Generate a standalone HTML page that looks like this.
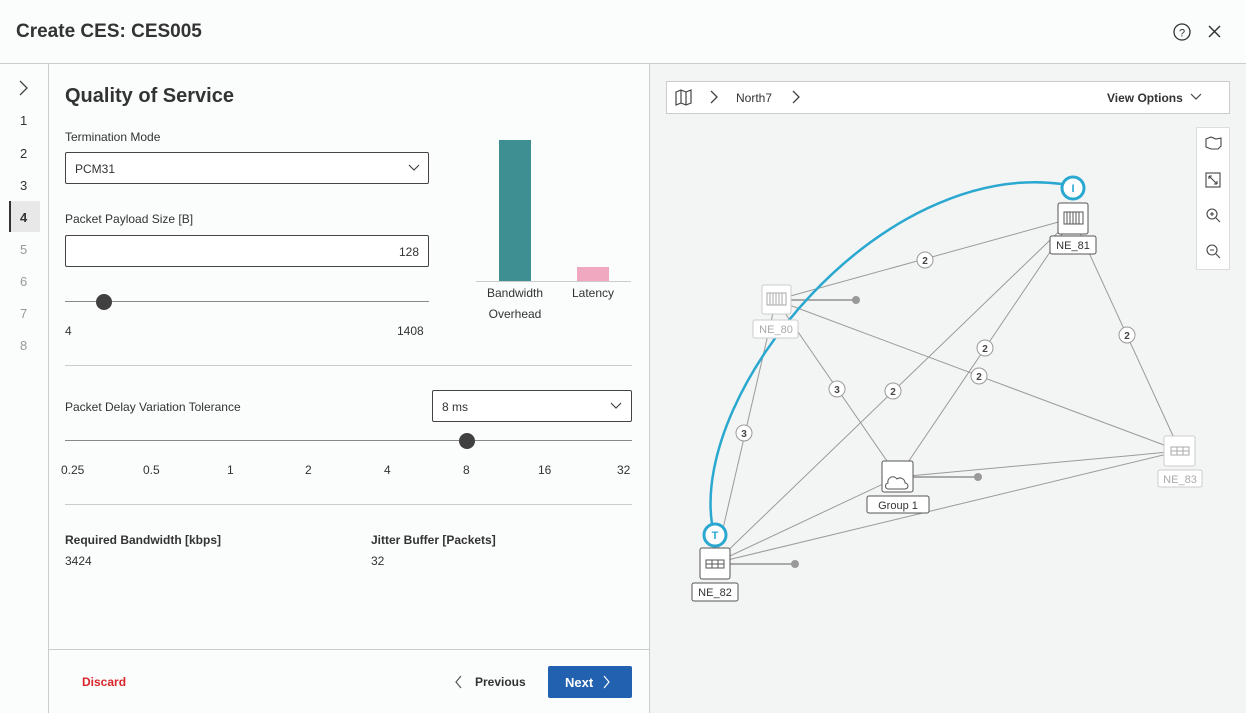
<!DOCTYPE html>
<html><head><meta charset="utf-8"><style>
*{box-sizing:border-box;margin:0;padding:0}
body{width:1246px;height:713px;overflow:hidden;background:#fbfcfc;font-family:"Liberation Sans",sans-serif;color:#333;position:relative}
.a{position:absolute}
.t12{font-size:12px}
.box{position:absolute;border:1px solid #444;border-radius:2px;background:#fff}
</style></head><body>
<div class="a" style="left:0;top:0;width:1246px;height:64px;border-bottom:1px solid #ccc;background:#fbfcfc"></div>
<div class="a" style="left:16px;top:21px;font-size:19px;font-weight:bold;color:#333">Create CES: CES005</div>
<svg class="a" style="left:1172px;top:22px" width="56" height="20"><circle cx="10" cy="10" r="8" fill="none" stroke="#333" stroke-width="1.3"/><text x="10" y="14.5" font-size="11" text-anchor="middle" fill="#333" font-family="Liberation Sans">?</text><path d="M37 4l11 11M48 4l-11 11" stroke="#333" stroke-width="1.5"/></svg>
<div class="a" style="left:48px;top:64px;width:1px;height:649px;background:#ccc"></div>
<svg class="a" style="left:16px;top:80px" width="16" height="16"><path d="M4 1l7 7-7 7" fill="none" stroke="#444" stroke-width="1.3"/></svg>
<div class="a" style="left:9px;top:201px;width:31px;height:31px;background:#e8e8e8;border-left:2px solid #333"></div>
<div class="a t12" style="left:20px;top:114px;line-height:1;font-size:13px">1</div>
<div class="a t12" style="left:20px;top:146px;font-size:13px">2</div>
<div class="a t12" style="left:20px;top:178px;font-size:13px">3</div>
<div class="a t12" style="left:20px;top:210px;font-size:13px;font-weight:bold">4</div>
<div class="a t12" style="left:20px;top:242px;font-size:13px;color:#999">5</div>
<div class="a t12" style="left:20px;top:274px;font-size:13px;color:#999">6</div>
<div class="a t12" style="left:20px;top:306px;font-size:13px;color:#999">7</div>
<div class="a t12" style="left:20px;top:338px;font-size:13px;color:#999">8</div>
<div class="a" style="left:65px;top:85px;font-size:20px;font-weight:bold;color:#333">Quality of Service</div>
<div class="a t12" style="left:65px;top:130px">Termination Mode</div>
<div class="box" style="left:65px;top:152px;width:364px;height:32px"><span class="a t12" style="left:9px;top:9px">PCM31</span><svg class="a" style="left:342px;top:11px" width="12" height="8"><path d="M1 1l5 5 5-5" fill="none" stroke="#444" stroke-width="1.2"/></svg></div>
<div class="a t12" style="left:65px;top:212px">Packet Payload Size [B]</div>
<div class="box" style="left:65px;top:235px;width:364px;height:32px"><span class="a t12" style="right:9px;top:9px">128</span></div>
<div class="a" style="left:65px;top:301px;width:364px;height:1px;background:#888"></div>
<div class="a" style="left:96px;top:294px;width:16px;height:16px;border-radius:50%;background:#404040"></div>
<div class="a t12" style="left:65px;top:324px">4</div>
<div class="a t12" style="left:397px;top:324px">1408</div>
<div class="a" style="left:476px;top:281px;width:155px;height:1px;background:#ccc"></div>
<div class="a" style="left:499px;top:140px;width:32px;height:141px;background:#3e8f91"></div>
<div class="a" style="left:577px;top:267px;width:32px;height:14px;background:#f0a7c0"></div>
<div class="a t12" style="left:480px;top:283px;width:70px;text-align:center;line-height:21px">Bandwidth<br>Overhead</div>
<div class="a t12" style="left:558px;top:283px;width:70px;text-align:center;line-height:21px">Latency</div>
<div class="a" style="left:65px;top:365px;width:567px;height:1px;background:#ccc"></div>
<div class="a t12" style="left:65px;top:400px">Packet Delay Variation Tolerance</div>
<div class="box" style="left:432px;top:390px;width:200px;height:32px"><span class="a t12" style="left:9px;top:9px">8 ms</span><svg class="a" style="left:177px;top:11px" width="12" height="8"><path d="M1 1l5 5 5-5" fill="none" stroke="#444" stroke-width="1.2"/></svg></div>
<div class="a" style="left:65px;top:440px;width:567px;height:1px;background:#888"></div>
<div class="a" style="left:459px;top:433px;width:16px;height:16px;border-radius:50%;background:#404040"></div>
<div class="a t12" style="left:61px;top:463px">0.25</div>
<div class="a t12" style="left:143px;top:463px">0.5</div>
<div class="a t12" style="left:227px;top:463px">1</div>
<div class="a t12" style="left:305px;top:463px">2</div>
<div class="a t12" style="left:384px;top:463px">4</div>
<div class="a t12" style="left:463px;top:463px">8</div>
<div class="a t12" style="left:538px;top:463px">16</div>
<div class="a t12" style="left:617px;top:463px">32</div>
<div class="a" style="left:65px;top:504px;width:567px;height:1px;background:#ccc"></div>
<div class="a t12" style="left:65px;top:533px;font-weight:bold">Required Bandwidth [kbps]</div>
<div class="a t12" style="left:65px;top:554px">3424</div>
<div class="a t12" style="left:371px;top:533px;font-weight:bold">Jitter Buffer [Packets]</div>
<div class="a t12" style="left:371px;top:554px">32</div>
<div class="a" style="left:49px;top:649px;width:600px;height:1px;background:#ccc"></div>
<div class="a t12" style="left:82px;top:675px;color:#d9262b;font-weight:bold">Discard</div>
<svg class="a" style="left:454px;top:675px" width="10" height="14"><path d="M7 1L2 7l5 6" fill="none" stroke="#555" stroke-width="1.2"/></svg>
<div class="a t12" style="left:475px;top:675px;font-weight:bold">Previous</div>
<div class="a" style="left:548px;top:666px;width:84px;height:32px;background:#2260b0;border-radius:2px"></div>
<div class="a t12" style="left:565px;top:675px;color:#fff;font-weight:bold;font-size:13px">Next</div>
<svg class="a" style="left:601px;top:675px" width="10" height="14"><path d="M3 1l5 6-5 6" fill="none" stroke="#fff" stroke-width="1.2"/></svg>
<div class="a" style="left:649px;top:64px;width:597px;height:649px;background:#f3f4f4;border-left:1px solid #ccc"></div>
<div class="a" style="left:666px;top:81px;width:564px;height:33px;background:#fff;border:1px solid #ccc"></div>
<svg class="a" style="left:674px;top:88px" width="140" height="20"><path d="M2 4l5-2 5 2 5-2v13l-5 2-5-2-5 2z M7 2v13 M12 4v13" fill="none" stroke="#444" stroke-width="1.2"/><path d="M37 3l6 6-6 6M119 3l6 6-6 6" fill="none" stroke="#444" stroke-width="1.3"/></svg>
<div class="a t12" style="left:736px;top:91px">North7</div>
<div class="a t12" style="left:1107px;top:91px;font-weight:bold">View Options</div>
<svg class="a" style="left:1190px;top:93px" width="12" height="8"><path d="M1 1l5 5 5-5" fill="none" stroke="#444" stroke-width="1.2"/></svg>
<div class="a" style="left:1196px;top:127px;width:34px;height:143px;background:#fff;border:1px solid #ddd"></div>
<svg class="a" style="left:1196px;top:127px" width="34" height="143" fill="none" stroke="#444" stroke-width="1.1">
<path d="M10 12l5-2 5 2 5-1v8l-3 3-7 0-5-2z"/><rect x="10" y="46" width="14" height="14"/><path d="M13 49l8 8M13 49h3M13 49v3M21 57h-3M21 57v-3"/><circle cx="16" cy="87" r="5"/><path d="M20 91l4 4M14 87h4M16 85v4"/><circle cx="16" cy="123" r="5"/><path d="M20 127l4 4M14 123h4"/></svg>
<svg class="a" style="left:0;top:0" width="1246" height="713">
<g stroke="#9a9a9a" stroke-width="1" fill="none">
<line x1="776" y1="300" x2="1073" y2="218"/><line x1="776" y1="300" x2="715" y2="563"/><line x1="776" y1="300" x2="898" y2="477"/><line x1="776" y1="300" x2="1180" y2="451"/>
<line x1="1073" y1="218" x2="715" y2="563"/><line x1="1073" y1="218" x2="898" y2="477"/><line x1="1073" y1="218" x2="1180" y2="451"/>
<line x1="898" y1="477" x2="1180" y2="451"/><line x1="715" y1="563" x2="898" y2="477"/><line x1="715" y1="563" x2="1180" y2="451"/>
</g>
<g stroke="#aaa" stroke-width="2"><line x1="776" y1="300" x2="856" y2="300"/><line x1="898" y1="477" x2="978" y2="477"/><line x1="715" y1="564" x2="795" y2="564"/></g>
<g fill="#999"><circle cx="856" cy="300" r="4"/><circle cx="978" cy="477" r="4"/><circle cx="795" cy="564" r="4"/></g>
<g font-family="Liberation Sans" font-size="10" font-weight="bold" text-anchor="middle" fill="#444">
<g fill="#fff" stroke="#999"><circle cx="925" cy="260" r="8"/><circle cx="744" cy="433" r="8"/><circle cx="837" cy="389" r="8"/><circle cx="979" cy="376" r="8"/><circle cx="893" cy="391" r="8"/><circle cx="985" cy="348" r="8"/><circle cx="1127" cy="335" r="8"/></g>
<text x="925" y="264">2</text><text x="744" y="437">3</text><text x="837" y="393">3</text><text x="979" y="380">2</text><text x="893" y="395">2</text><text x="985" y="352">2</text><text x="1127" y="339">2</text>
</g>
<path d="M712 524 C 692 390 880 160 1062 184" fill="none" stroke="#2aa8d0" stroke-width="2.5"/>
<g fill="#fff" stroke="#555"><rect x="1058" y="203" width="30" height="31" rx="2"/><rect x="700" y="548" width="30" height="31" rx="2"/><rect x="882" y="461" width="31" height="31" rx="2"/></g>
<g fill="#fff" stroke="#ccc"><rect x="762" y="285" width="29" height="29" rx="2"/><rect x="1164" y="436" width="31" height="30" rx="2"/><rect x="753" y="320" width="45" height="18" rx="2"/><rect x="1158" y="470" width="44" height="17" rx="2"/></g>
<g fill="#fff" stroke="#555"><rect x="1050" y="236" width="46" height="18" rx="2"/><rect x="692" y="583" width="46" height="18" rx="2"/><rect x="867" y="496" width="62" height="17" rx="2"/></g>
<g stroke="#555" fill="none"><rect x="1064" y="212" width="19" height="12"/><path d="M1067 212v12M1070 212v12M1073 212v12M1076 212v12M1079 212v12"/><rect x="706" y="560" width="18" height="8"/><path d="M706 564h18M712 560v8M718 560v8"/><path d="M888 483a5 5 0 0 1 9-4a5 5 0 0 1 8 4a3 3 0 0 1 0 6h-16a3 3 0 0 1-1-6z"/></g>
<g stroke="#aaa" fill="none"><rect x="767" y="293" width="19" height="12"/><path d="M770 293v12M773 293v12M776 293v12M779 293v12M782 293v12"/><rect x="1171" y="447" width="18" height="8"/><path d="M1171 451h18M1177 447v8M1183 447v8"/></g>
<g font-family="Liberation Sans" font-size="11" text-anchor="middle"><text x="1073" y="249" fill="#333">NE_81</text><text x="715" y="596" fill="#333">NE_82</text><text x="898" y="509" fill="#333">Group 1</text><text x="776" y="333" fill="#aaa">NE_80</text><text x="1180" y="483" fill="#aaa">NE_83</text></g>
<g fill="#fff" stroke="#2aa8d0" stroke-width="3"><circle cx="1073" cy="188" r="11"/><circle cx="715" cy="535" r="11"/></g>
<g font-family="Liberation Sans" font-size="11" font-weight="bold" text-anchor="middle" fill="#2aa8d0"><text x="1073" y="192">I</text><text x="715" y="539">T</text></g>
</svg>
</body></html>
